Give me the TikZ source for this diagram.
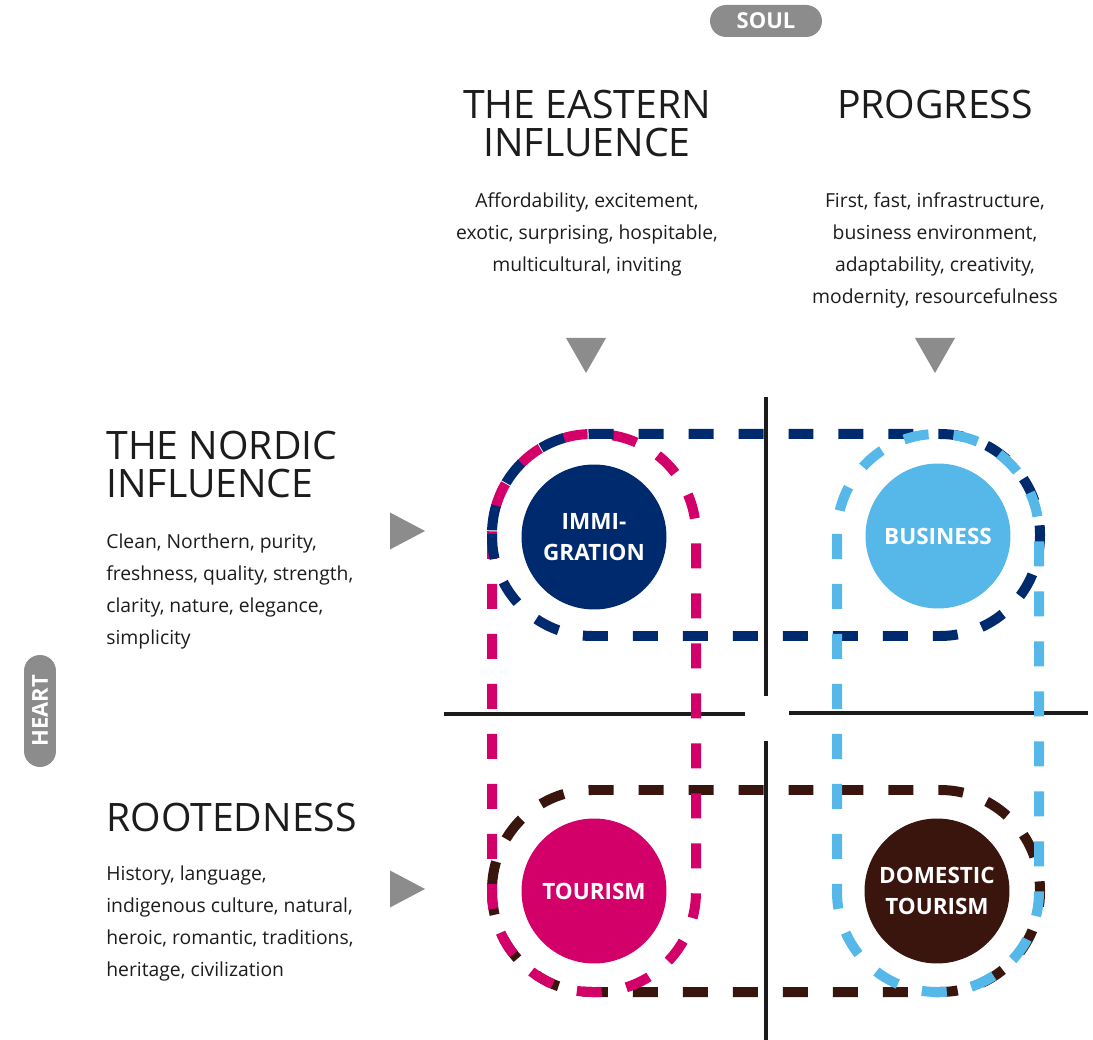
\documentclass[tikz,border=0pt]{standalone}
\usepackage{fontspec}
\setmainfont{Open Sans}
\usetikzlibrary{positioning}

\definecolor{immigration}{RGB}{0,42,110}
\definecolor{business}{RGB}{86,184,232}
\definecolor{tourism}{RGB}{212,0,106}
\definecolor{domestic}{RGB}{58,21,14}
\definecolor{pillgrey}{RGB}{140,140,140}
\definecolor{ink}{RGB}{28,28,28}

\begin{document}
\begin{tikzpicture}[
    x=0.02cm, y=-0.02cm,
    heading/.style={inner sep=0pt, align=left, text=ink, font=\fontsize{22.3}{21.6}\selectfont},
    blurb/.style={inner sep=0pt, align=left, text=ink, font=\fontsize{11}{18.3}\selectfont},
    hub/.style={circle, minimum size=2.9cm, inner sep=0pt, align=center, text=white, font=\fontsize{12.8}{17.6}\selectfont\bfseries},
    ring/.style={line width=0.2cm, dash pattern=on 0.5cm off 0.5cm, rounded corners=2cm},
    pill/.style={rectangle, rounded corners=0.32cm, fill=pillgrey, text=white, minimum width=2.24cm, minimum height=0.64cm, inner sep=0pt, font=\fontsize{12.5}{14}\selectfont\bfseries},
    marker/.style={fill=pillgrey},
    axis/.style={line width=2pt, draw=ink}
]
\useasboundingbox (0,0) rectangle (1093,1040);

% --- Axes ---
\node[pill] (soul) at (766,21) {SOUL};
\node[pill, rotate=90] (heart) at (40,711) {HEART};

\draw[axis] (766,397) -- (766,696);
\draw[axis] (766,741) -- (766,1040);
\draw[axis] (444,714) -- (745,714);
\draw[axis] (789,713) -- (1088,713);

% --- Soul headings ---
\node[heading, align=center, anchor=north] (eastern) at (587,90) {THE EASTERN\\INFLUENCE};
\node[blurb, align=center, below=0.7cm of eastern] (easternblurb) {Affordability, excitement,\\exotic, surprising, hospitable,\\multicultural, inviting};

\node[heading, anchor=north] (progress) at (935,90) {PROGRESS};
\node[blurb, align=center, anchor=north] (progressblurb) at (progress.south |- easternblurb.north) {First, fast, infrastructure,\\business environment,\\adaptability, creativity,\\modernity, resourcefulness};

\fill[marker] (586,373) -- ++(-20,-35) -- ++(40,0) -- cycle;
\fill[marker] (935,373) -- ++(-20,-35) -- ++(40,0) -- cycle;

% --- Heart headings ---
\node[heading, anchor=north west] (nordic) at (106,431) {THE NORDIC\\INFLUENCE};
\node[blurb, below=0.7cm of nordic.south west, anchor=north west] (nordicblurb) {Clean, Northern, purity,\\freshness, quality, strength,\\clarity, nature, elegance,\\simplicity};

\node[heading, anchor=north west] (rooted) at (106,803) {ROOTEDNESS};
\node[blurb, below=0.66cm of rooted.south west, anchor=north west] (rootedblurb) {History, language,\\indigenous culture, natural,\\heroic, romantic, traditions,\\heritage, civilization};

\fill[marker] (425,531) -- ++(-35,-18.5) -- ++(0,37) -- cycle;
\fill[marker] (425,889) -- ++(-35,-18.5) -- ++(0,37) -- cycle;

% --- Dashed groupings ---
\draw[ring, draw=domestic] (492,790) rectangle (1040,992);
\draw[ring, draw=tourism] (492,434) rectangle (696,992);
\draw[ring, draw=immigration] (492,434) rectangle (1040,636);
\draw[ring, draw=business] (837,434) rectangle (1039,992);

% --- Segments ---
\node[hub, fill=immigration] (immigration) at (594,537) {IMMI-\\GRATION};
\node[hub, fill=business] (business) at (938,536) {BUSINESS};
\node[hub, fill=tourism] (tourism) at (594,891) {TOURISM};
\node[hub, fill=domestic] (domestic) at (937,891) {DOMESTIC\\TOURISM};

\end{tikzpicture}
\end{document}
